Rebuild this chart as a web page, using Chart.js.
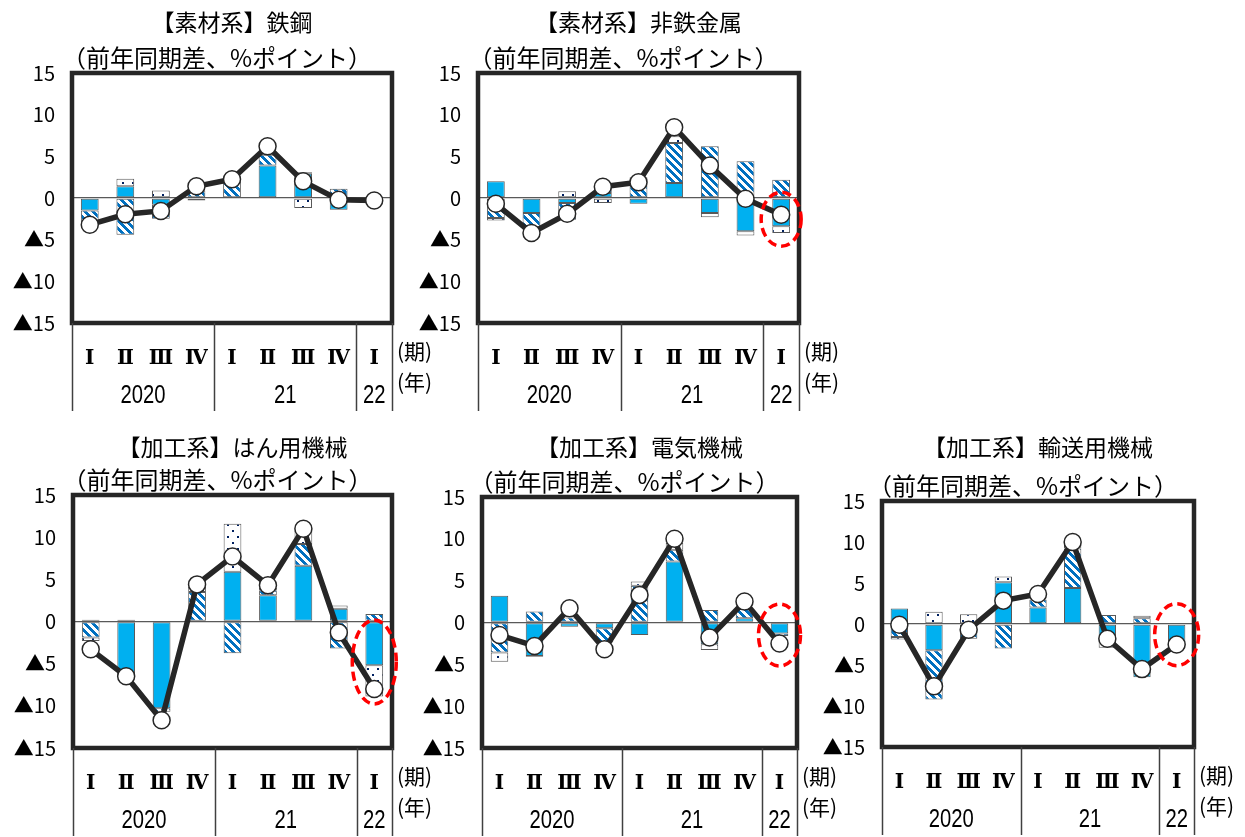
<!DOCTYPE html>
<html>
<head>
<meta charset="utf-8">
<script src="https://cdn.jsdelivr.net/npm/chart.js@4.4.1/dist/chart.umd.min.js"></script>
<style>
  body { margin: 0; background: #fff; width: 1245px; height: 837px; overflow: hidden; position: relative; }
  canvas { position: absolute; }
</style>
</head>
<body>
<canvas id="c1" width="440" height="415" style="left:0;top:0"></canvas>
<canvas id="c2" width="450" height="415" style="left:410px;top:0"></canvas>
<canvas id="c3" width="440" height="417" style="left:0;top:420px"></canvas>
<canvas id="c4" width="450" height="417" style="left:410px;top:420px"></canvas>
<canvas id="c5" width="430" height="417" style="left:815px;top:420px"></canvas>
<script>
// quarters and years on the x axis
const quarters = ['Ⅰ', 'Ⅱ', 'Ⅲ', 'Ⅳ', 'Ⅰ', 'Ⅱ', 'Ⅲ', 'Ⅳ', 'Ⅰ'];
const yearLabels = ['2020', '21', '22'];
const yearSpans = [4, 4, 1];
const yTicks = [15, 10, 5, 0, -5, -10, -15];

// 【素材系】鉄鋼
const steelSolid = [-1.5, 1.4, -0.8, -0.3, 0, 3.9, 2.9, -1.4, 0];
const steelStripe = [-1.5, -4.4, -1.7, 0.9, 2.3, 1.3, 0.2, 1.1, 0];
const steelDot = [0, 0.9, 0.9, 0, 0, 0.5, -1.2, 0, 0];
const steelTotal = [-3.2, -1.95, -1.55, 1.4, 2.25, 6.2, 2.0, -0.2, -0.3];

// 【素材系】非鉄金属
const nonferSolid = [2.0, -1.8, -0.6, 0.6, -0.7, 1.8, -1.8, -4.0, -3.4];
const nonferStripe = [-2.4, -2.0, -2.0, 0.8, 1.5, 4.8, 6.2, 4.4, 2.2];
const nonferDot = [-0.3, 0, 0.8, -0.6, 1.0, 0.8, -0.5, -0.5, -0.8];
const nonferTotal = [-0.7, -4.2, -1.9, 1.35, 1.9, 8.5, 3.9, -0.1, -2.0];

// 【加工系】はん用機械
const generalSolid = [0.2, -6.4, -10.3, 0, 5.9, 3.1, 6.6, 1.5, -5.2];
const generalStripe = [-1.9, 0.2, -0.4, 3.5, -3.75, 0.6, 2.6, -3.2, 0.9];
const generalDot = [-0.4, 0, 0, 0.6, 5.7, 0.3, 1.6, 0.4, -3.7];
const generalTotal = [-3.3, -6.5, -11.7, 4.4, 7.7, 4.3, 11.0, -1.3, -8.0];

// 【加工系】電気機械
const electricSolid = [3.2, -4.0, -0.5, -0.7, -1.5, 7.3, -2.6, 0.5, -1.3];
const electricStripe = [-3.6, 1.3, 0.6, -1.7, 4.4, 1.4, 1.5, 1.1, -0.3];
const electricDot = [-1.1, -0.1, 0, 0, 0.5, 0.8, -0.7, 0, 0];
const electricTotal = [-1.5, -2.8, 1.7, -3.2, 3.3, 10.0, -1.8, 2.5, -2.5];

// 【加工系】輸送用機械
const transportSolid = [1.9, -3.2, -0.5, 5.1, 2.0, 4.4, -1.9, -6.5, -2.6];
const transportStripe = [-1.6, -6.0, -1.3, -3.0, 1.0, 4.8, 1.1, 0.7, 0];
const transportDot = [-0.3, 1.5, 1.2, 0.7, 0, 0.8, -1.0, 0.3, 0];
const transportTotal = [-0.1, -7.6, -0.7, 2.85, 3.66, 10.0, -1.8, -5.5, -2.5];

const subtitle = '（前年同期差、%ポイント）';

function stripeTile() {
  const c = document.createElement('canvas');
  c.width = 8; c.height = 8;
  const g = c.getContext('2d');
  g.fillStyle = '#fff';
  g.fillRect(0, 0, 8, 8);
  g.fillStyle = '#0070C0';
  for (let j = 0; j < 8; j++) {
    for (let i = 0; i < 8; i++) {
      if ((((i - j) % 8) + 8) % 8 < 4) g.fillRect(i, j, 1, 1);
    }
  }
  return c;
}

function dotTile() {
  const c = document.createElement('canvas');
  c.width = 10; c.height = 12;
  const g = c.getContext('2d');
  g.fillStyle = '#fff';
  g.fillRect(0, 0, 10, 12);
  g.fillStyle = '#002060';
  g.fillRect(2, 2, 2, 2);
  g.fillRect(7, 8, 2, 2);
  return c;
}

const nz = v => (v === 0 ? null : v);

const panelDecor = {
  id: 'panelDecor',
  afterDatasetsDraw(chart, args, opts) {
    const { ctx, chartArea: a, scales: { x, y } } = chart;
    ctx.save();
    ctx.lineWidth = 4.5;
    ctx.strokeStyle = '#262626';
    ctx.strokeRect(a.left, a.top, a.right - a.left, a.bottom - a.top);
    if (opts.mark) {
      const m = opts.mark;
      ctx.beginPath();
      ctx.setLineDash([9, 5]);
      ctx.lineWidth = 3.5;
      ctx.strokeStyle = '#FF0000';
      ctx.ellipse(x.getPixelForValue(m.index), y.getPixelForValue(m.value), m.rx, m.ry, 0, 0, Math.PI * 2);
      ctx.stroke();
    }
    ctx.restore();
  },
  afterDraw(chart, args, opts) {
    const { ctx, chartArea: a, scales: { x } } = chart;
    const mid = (a.left + a.right) / 2;
    ctx.save();
    ctx.fillStyle = '#000';
    ctx.textAlign = 'center';
    ctx.textBaseline = 'middle';
    ctx.font = '23px "Noto Sans CJK JP"';
    ctx.fillText(opts.title, mid, opts.titleY);
    ctx.font = '24px "Noto Sans CJK JP"';
    ctx.fillText(subtitle, mid - 15, a.top - 15);

    // year row and separators
    const step = (a.right - a.left) / quarters.length;
    const lineEnd = Math.min(a.bottom + 88, chart.height);
    ctx.strokeStyle = '#404040';
    ctx.lineWidth = 1.5;
    let start = 0;
    const edges = [a.left];
    ctx.font = '22px "Liberation Sans"';
    yearLabels.forEach((lab, i) => {
      const end = start + yearSpans[i] - 1;
      const cx = (x.getPixelForValue(start) + x.getPixelForValue(end)) / 2;
      ctx.save();
      ctx.translate(cx, a.bottom + 73);
      ctx.scale(0.92, 1.15);
      ctx.fillText(lab, 0, 0);
      ctx.restore();
      edges.push(x.getPixelForValue(end) + step / 2);
      start = end + 1;
    });
    edges.forEach(px => {
      ctx.beginPath();
      ctx.moveTo(Math.round(px) + 0.5, a.bottom);
      ctx.lineTo(Math.round(px) + 0.5, lineEnd);
      ctx.stroke();
    });
    ctx.textAlign = 'left';
    ctx.font = '21px "Noto Sans CJK JP"';
    ctx.fillText('(期)', a.right + 5, a.bottom + 28);
    ctx.fillText('(年)', a.right + 5, a.bottom + 59);
    ctx.restore();
  }
};

function buildPanel(id, p) {
  const canvas = document.getElementById(id);
  const ctx = canvas.getContext('2d');
  const stripe = ctx.createPattern(stripeTile(), 'repeat');
  const dots = ctx.createPattern(dotTile(), 'repeat');
  const barCommon = {
    stack: 'parts', order: 1, borderColor: '#595959', borderWidth: 1, borderSkipped: false,
    categoryPercentage: 1, barPercentage: 0.5
  };
  new Chart(ctx, {
    type: 'bar',
    data: {
      labels: quarters,
      datasets: [
        {
          type: 'line', data: p.total, stack: 'total', order: 0,
          borderColor: '#262626', borderWidth: 5.5, tension: 0,
          pointRadius: 8.5, pointBackgroundColor: '#fff', pointBorderColor: '#262626', pointBorderWidth: 1.5
        },
        Object.assign({ data: p.solid.map(nz), backgroundColor: '#00B0F0' }, barCommon),
        Object.assign({ data: p.stripe.map(nz), backgroundColor: stripe }, barCommon),
        Object.assign({ data: p.dot.map(nz), backgroundColor: dots }, barCommon)
      ]
    },
    options: {
      responsive: false,
      animation: false,
      layout: { padding: { top: p.padTop, right: p.padRight, left: 0, bottom: 0 } },
      plugins: {
        legend: { display: false },
        tooltip: { enabled: false },
        panelDecor: { title: p.title, titleY: p.titleY, mark: p.mark }
      },
      scales: {
        x: {
          stacked: true,
          grid: { display: false },
          border: { display: false },
          ticks: { color: '#000', font: { family: 'DejaVu Serif', size: 20, weight: 'bold' }, padding: 16, maxRotation: 0, autoSkip: false },
          afterFit: s => { s.height = p.xHeight; }
        },
        y: {
          stacked: true,
          min: -15,
          max: 15,
          afterBuildTicks: s => { s.ticks = yTicks.map(v => ({ value: v })); },
          ticks: {
            color: '#000', font: { family: '"Noto Sans CJK JP"', size: 20 }, padding: 17,
            callback: v => (v < 0 ? '▲' + Math.abs(v) : String(v))
          },
          grid: { drawTicks: false, lineWidth: 1.3, color: c => (c.tick && c.tick.value === 0 ? '#595959' : 'rgba(0,0,0,0)') },
          border: { display: false },
          afterFit: s => { s.width = p.yWidth; }
        }
      }
    },
    plugins: [panelDecor]
  });
}

buildPanel('c1', { title: '【素材系】鉄鋼', titleY: 22, solid: steelSolid, stripe: steelStripe, dot: steelDot, total: steelTotal,
  padTop: 73, padRight: 48, yWidth: 72, xHeight: 92, mark: null });
buildPanel('c2', { title: '【素材系】非鉄金属', titleY: 22, solid: nonferSolid, stripe: nonferStripe, dot: nonferDot, total: nonferTotal,
  padTop: 73, padRight: 61, yWidth: 68, xHeight: 92, mark: { index: 8, value: -2.55, rx: 20, ry: 27 } });
buildPanel('c3', { title: '【加工系】はん用機械', titleY: 27, solid: generalSolid, stripe: generalStripe, dot: generalDot, total: generalTotal,
  padTop: 75, padRight: 48, yWidth: 73, xHeight: 89, mark: { index: 8, value: -4.8, rx: 22, ry: 42 } });
buildPanel('c4', { title: '【加工系】電気機械', titleY: 27, solid: electricSolid, stripe: electricStripe, dot: electricDot, total: electricTotal,
  padTop: 77, padRight: 63, yWidth: 72, xHeight: 89, mark: { index: 8, value: -1.5, rx: 21, ry: 31 } });
buildPanel('c5', { title: '【加工系】輸送用機械', titleY: 27, solid: transportSolid, stripe: transportStripe, dot: transportDot, total: transportTotal,
  padTop: 81, padRight: 51, yWidth: 67, xHeight: 90, mark: { index: 8, value: -1.3, rx: 22, ry: 31 } });
</script>
</body>
</html>
